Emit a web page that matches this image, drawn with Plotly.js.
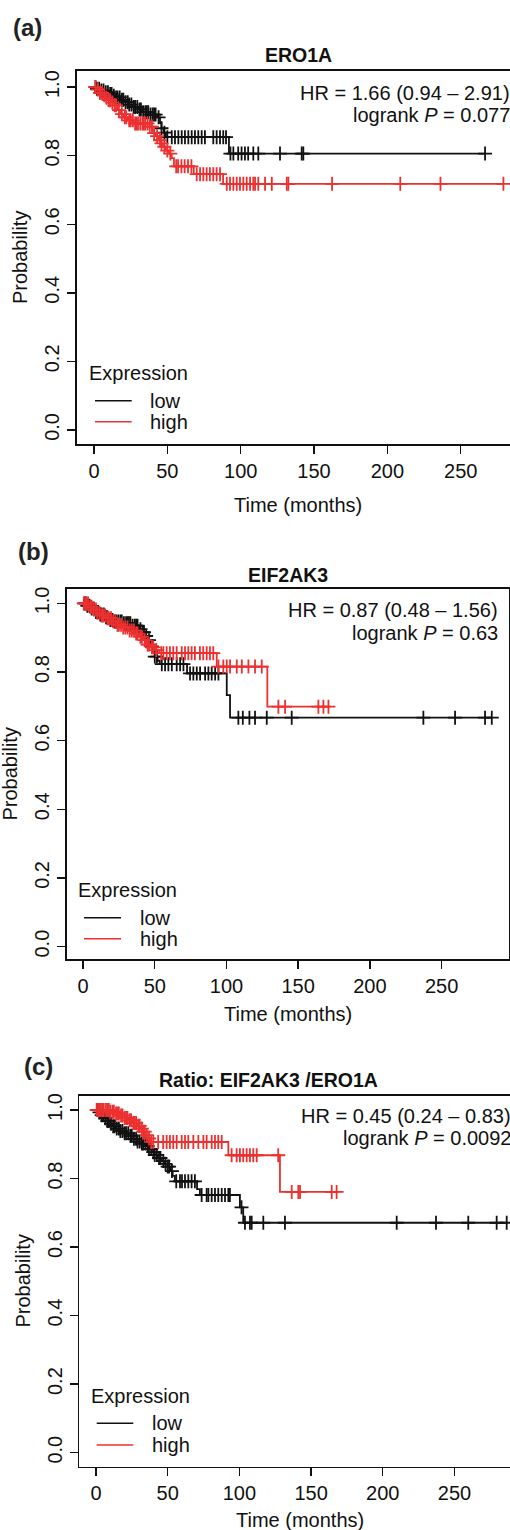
<!DOCTYPE html>
<html>
<head>
<meta charset="utf-8">
<script src="https://cdn.plot.ly/plotly-3.0.1.min.js"></script>
<style>html,body{margin:0;padding:0;background:#fff;overflow:hidden}#chart{width:510px;height:1530px}</style>
</head>
<body>
<div id="chart"></div>
<script>
// ---------------- DATA ----------------
const xTickVals = [0, 50, 100, 150, 200, 250];
const yTickVals = [0, 0.2, 0.4, 0.6, 0.8, 1.0];
const yTickText = ["0.0", "0.2", "0.4", "0.6", "0.8", "1.0"];
const groupNames = ["low", "high"];
const panelTitles = ["ERO1A", "EIF2AK3", "Ratio: EIF2AK3 /ERO1A"];
const panelLabels = ["(a)", "(b)", "(c)"];
const hrTexts = ["HR = 1.66 (0.94 \u2013 2.91)", "HR = 0.87 (0.48 \u2013 1.56)", "HR = 0.45 (0.24 \u2013 0.83)"];
const pTexts = ["logrank <i>P</i> = 0.077", "logrank <i>P</i> = 0.63", "logrank <i>P</i> = 0.0092"];

// Panel (a) ERO1A
const aLowT  = [0, 2, 4, 7, 10, 13, 15, 18, 21, 24, 27, 30, 33, 38, 43, 45, 46, 47.5, 49, 92];
const aLowS  = [1, 0.995, 0.99, 0.985, 0.98, 0.975, 0.97, 0.963, 0.956, 0.949, 0.942, 0.935, 0.927, 0.92, 0.912, 0.895, 0.88, 0.867, 0.854, 0.806];
const aLowCens = [1, 2, 3.5, 5, 6.5, 8, 9.5, 11, 12, 13.5, 15, 16, 17.5, 19, 20, 21.5, 23, 24, 25.5, 27, 28, 29.5, 31, 32, 33.5, 35, 36, 37, 38.5, 40, 41, 42, 44, 46, 48,
  50, 53, 55.2, 57.5, 59.8, 62, 64.3, 66.6, 68.8, 71.1, 73.4, 75.6, 81.3, 83.6, 85.9, 88.1, 90,
  93, 95, 98.3, 100.6, 102.9, 105.1, 108.6, 112, 126.8, 141.6, 142.7, 266.6];
const aHighT = [0, 2, 4, 6, 8, 10, 12, 14, 16, 18, 20, 23, 27, 38, 40, 41, 42, 44, 45.5, 47, 49, 51, 53, 54.5, 68, 88];
const aHighS = [1, 0.993, 0.983, 0.976, 0.969, 0.962, 0.955, 0.947, 0.933, 0.921, 0.912, 0.903, 0.894, 0.885, 0.874, 0.866, 0.857, 0.845, 0.836, 0.826, 0.815, 0.806, 0.793, 0.769, 0.746, 0.718];
const aHighCens = [1, 2.5, 4, 5.5, 7, 8.5, 10, 11, 12.5, 14, 15, 17, 19, 21, 22, 24, 25, 26.5, 28, 29, 30, 31.5, 33, 34, 35, 36.5, 38, 39.5, 41, 43, 45, 46, 48, 50, 52,
  56, 57.3, 59.6, 61.8, 64.1, 66.4,
  70, 72.3, 74.5, 76.8, 79, 81.3, 83.6, 85.9,
  90.5, 92.7, 95, 97.3, 99.5, 101.8, 104.1, 106.4, 108.6, 109.8, 112, 116.6, 121.2, 131.4, 132.5, 162.3, 208.8, 236.2, 279.1];

// Panel (b) EIF2AK3
const bLowT  = [0, 3, 6, 9, 12, 15, 18, 22, 28, 34, 39, 41, 43, 45, 47, 48.5, 50, 52, 53.5, 72.5, 100.2, 102.5];
const bLowS  = [1, 0.993, 0.985, 0.975, 0.968, 0.96, 0.952, 0.947, 0.942, 0.935, 0.925, 0.916, 0.905, 0.893, 0.875, 0.86, 0.845, 0.833, 0.823, 0.796, 0.733, 0.667];
const bLowCens = [1, 2, 3, 4.5, 6, 7.5, 9, 10.5, 12, 13, 14.5, 16, 17, 19, 20.5, 22, 23, 24.5, 26, 27, 28.5, 30, 31, 32, 33, 34.5, 36, 37, 38, 40, 41.5, 42.5, 44, 46, 48, 50, 51.5,
  54.9, 57.2, 59.5, 61.9, 65.3, 67.7, 70,
  74.6, 76.9, 79.3, 81.6, 85.1, 87.4, 89.7, 92.1, 94.4,
  108.3, 111.4, 116, 119.9, 128.1, 145.5, 237.3, 259.4, 280.3, 285];
const bHighT = [0, 4, 7, 10, 13, 16, 20, 24, 28, 32, 36, 39, 42, 44, 47, 50, 53, 93.2, 128.5];
const bHighS = [1, 0.99, 0.982, 0.973, 0.965, 0.957, 0.948, 0.938, 0.93, 0.921, 0.912, 0.903, 0.893, 0.88, 0.872, 0.864, 0.855, 0.816, 0.699];
const bHighCens = [0.5, 1.5, 2.5, 3.5, 5, 6, 7.5, 9, 10, 11.5, 13, 14, 15.5, 17, 18, 19.5, 21, 22.5, 24, 25, 26.5, 28, 29.5, 31, 32.5, 34, 35.5, 37, 38, 40, 41, 43, 45, 46, 48, 49, 51,
  54.5, 56, 58.3, 60.6, 62.9, 65.3, 68.8, 71.1, 73.4, 75.7, 78, 81.5, 83.8, 86.2, 88.5, 90.8,
  94.4, 97.8, 100.2, 102.5, 107.2, 110.7, 115.3, 119.9, 124.6,
  136.2, 140.9, 164.1, 167.6, 171.1];

// Panel (c) Ratio EIF2AK3 / ERO1A
const cLowT  = [0, 2, 4, 6, 8, 10, 12, 14, 17, 20, 23, 26, 29, 32, 35, 37, 39, 41, 43, 46, 48, 50, 52, 53.5, 55, 70.5, 72.5, 100.4, 102.7];
const cLowS  = [1, 0.993, 0.985, 0.976, 0.968, 0.96, 0.953, 0.946, 0.939, 0.932, 0.925, 0.916, 0.908, 0.902, 0.895, 0.886, 0.877, 0.869, 0.86, 0.851, 0.843, 0.835, 0.822, 0.808, 0.792, 0.769, 0.752, 0.716, 0.671];
const cLowCens = [1, 2.5, 4, 5, 6.5, 8, 9, 10.5, 12, 13, 14.5, 16, 17, 18.5, 20, 21, 22.5, 24, 25, 26.5, 28, 29, 30.5, 32, 33, 34.5, 36, 37, 38.5, 40, 41, 42.5, 44, 45, 47, 48.5, 50, 51, 53,
  56, 58.6, 60, 62.1, 64.4, 66.7, 69,
  73.7, 77.2, 78.4, 80.7, 83, 85.3, 87.7, 90, 92.3, 93.4,
  101.5, 103.9, 107.4, 108.6, 116.7, 131.8, 209.7, 237.1, 259.6, 279.4, 286.4];
const cHighT = [0, 10, 14, 17, 20, 23, 26, 29, 31, 33, 35, 36.5, 38, 92.3, 128.3];
const cHighS = [1, 0.995, 0.99, 0.984, 0.977, 0.97, 0.962, 0.954, 0.946, 0.937, 0.927, 0.917, 0.907, 0.868, 0.761];
const cHighCens = [0.5, 1.5, 2.5, 3.5, 4.5, 5.5, 7, 8, 9, 10, 11.5, 12.5, 14, 15, 16, 17.5, 18.5, 20, 21, 22, 23.5, 24.5, 26, 27, 28, 29.5, 30.5, 32, 33, 34, 35.5, 37,
  38.5, 40, 43.4, 46.9, 49.3, 51.6, 53.9, 56.3, 59.8, 62.1, 64.4, 67.9, 71.4, 74.9, 77.2, 80.7, 83, 85.3, 87.7,
  94.6, 98.1, 100.4, 102.7, 105.1, 107.4, 109.7, 112.1, 127.1,
  136.5, 141.1, 142.3, 164.4, 167.8];

// ---------------- STYLE / LAYOUT ----------------
const FONT = "Liberation Sans, Arial, Helvetica, sans-serif";
const FS = 20;
const BLACK = "#111111";
const RED = "#EC3030";
const W = 510, H = 1530;
const px = v => v / W;
const py = v => 1 - v / H;

function survAt(T, S, t) {
  let s = S[0];
  for (let i = 0; i < T.length; i++) { if (T[i] <= t) s = S[i]; }
  return s;
}
function curve(T, S, cens) {
  const end = Math.max(T[T.length - 1], Math.max.apply(null, cens));
  return { x: T.concat([end]), y: S.concat([S[S.length - 1]]) };
}

const panels = [
  { low: [aLowT, aLowS, aLowCens], high: [aHighT, aHighS, aHighCens],
    xdom: [77, 510], xr: [-11.6, 283.6], ytop: 71, ybot: 444, yr: [-0.041, 1.047], rightLine: false,
    label: [11, 27], title: [298, 55], hrX: 512, hrY: [93, 115], ytitle: [20, 258], xtitle: [298, 505],
    leg: { title: [87, 373], lineX: [95, 131.7], lowY: 400.7, highY: 421.7, textX: 148 } },
  { low: [bLowT, bLowS, bLowCens], high: [bHighT, bHighS, bHighCens],
    xdom: [66.7, 509], xr: [-11.4, 297], ytop: 589, ybot: 959.3, yr: [-0.037, 1.042], rightLine: true,
    label: [16, 551], title: [288, 575], hrX: 500, hrY: [610, 633], ytitle: [9.5, 774], xtitle: [288, 1014],
    leg: { title: [76, 890], lineX: [84, 121], lowY: 917.7, highY: 938.7, textX: 138 } },
  { low: [cLowT, cLowS, cLowCens], high: [cHighT, cHighS, cHighCens],
    xdom: [79.3, 510], xr: [-11.6, 288.7], ytop: 1096, ybot: 1466.7, yr: [-0.041, 1.041], rightLine: false,
    label: [22, 1066], title: [268.5, 1080], hrX: 513, hrY: [1116, 1138], ytitle: [22, 1281.5], xtitle: [300, 1520],
    leg: { title: [89, 1396], lineX: [96.7, 133.3], lowY: 1423.3, highY: 1445, textX: 150 } }
];

const traces = [];
const annotations = [];
const shapes = [];
const layout = {
  width: W, height: H, margin: { l: 0, r: 0, t: 0, b: 0 },
  paper_bgcolor: "#fff", plot_bgcolor: "#fff", showlegend: false,
  font: { family: FONT, size: FS, color: BLACK }
};

panels.forEach((p, i) => {
  const n = i === 0 ? "" : String(i + 1);
  const xa = "x" + n, ya = "y" + n;
  layout["xaxis" + n] = {
    domain: [px(p.xdom[0]), px(p.xdom[1])], range: p.xr, anchor: ya,
    showline: true, mirror: true, linecolor: BLACK, linewidth: 1.7,
    ticks: "outside", ticklen: 8, tickwidth: 1.4, tickcolor: BLACK,
    tickvals: xTickVals, showgrid: false, zeroline: false, fixedrange: true,
    tickfont: { family: FONT, size: FS, color: BLACK }
  };
  layout["yaxis" + n] = {
    domain: [py(p.ybot), py(p.ytop)], range: p.yr, anchor: xa,
    showline: true, mirror: p.rightLine, linecolor: BLACK, linewidth: 1.7,
    ticks: "outside", ticklen: 8, tickwidth: 1.4, tickcolor: BLACK,
    tickvals: yTickVals, ticktext: yTickText, tickangle: -90,
    showgrid: false, zeroline: false, fixedrange: true,
    tickfont: { family: FONT, size: FS, color: BLACK }
  };
  [["low", BLACK], ["high", RED]].forEach(([g, col]) => {
    const [T, S, C] = p[g];
    const c = curve(T, S, C);
    traces.push({ type: "scatter", mode: "lines", name: g, x: c.x, y: c.y, xaxis: xa, yaxis: ya,
      line: { shape: "hv", color: col, width: 1.8 }, hoverinfo: "skip" });
    traces.push({ type: "scatter", mode: "markers", name: g + " censored", x: C, y: C.map(t => survAt(T, S, t)),
      xaxis: xa, yaxis: ya, hoverinfo: "skip",
      marker: { symbol: "cross-thin", size: 10, color: col, line: { color: col, width: 1.8 } } });
  });
  const ann = (text, x, y, opt) => annotations.push(Object.assign({
    text, xref: "paper", yref: "paper", x: px(x), y: py(y), showarrow: false,
    xanchor: "center", yanchor: "middle", font: { family: FONT, size: FS, color: BLACK }
  }, opt || {}));
  ann(panelLabels[i], p.label[0], p.label[1], { xanchor: "left", font: { family: FONT, size: 24, color: "#222", weight: "bold" } });
  ann(panelTitles[i], p.title[0], p.title[1], { font: { family: FONT, size: 19.5, color: BLACK, weight: "bold" } });
  ann(hrTexts[i], p.hrX, p.hrY[0], { xanchor: "right" });
  ann(pTexts[i], p.hrX, p.hrY[1], { xanchor: "right" });
  ann("Probability", p.ytitle[0], p.ytitle[1], { textangle: -90 });
  ann("Time (months)", p.xtitle[0], p.xtitle[1]);
  ann("Expression", p.leg.title[0], p.leg.title[1], { xanchor: "left" });
  ann(groupNames[0], p.leg.textX, p.leg.lowY, { xanchor: "left" });
  ann(groupNames[1], p.leg.textX, p.leg.highY, { xanchor: "left" });
  shapes.push({ type: "line", xref: "paper", yref: "paper", x0: px(p.leg.lineX[0]), x1: px(p.leg.lineX[1]),
    y0: py(p.leg.lowY), y1: py(p.leg.lowY), line: { color: BLACK, width: 1.6 } });
  shapes.push({ type: "line", xref: "paper", yref: "paper", x0: px(p.leg.lineX[0]), x1: px(p.leg.lineX[1]),
    y0: py(p.leg.highY), y1: py(p.leg.highY), line: { color: RED, width: 1.6 } });
});
layout.annotations = annotations;
layout.shapes = shapes;

Plotly.newPlot("chart", traces, layout, { displayModeBar: false, staticPlot: true });
</script>
</body>
</html>
